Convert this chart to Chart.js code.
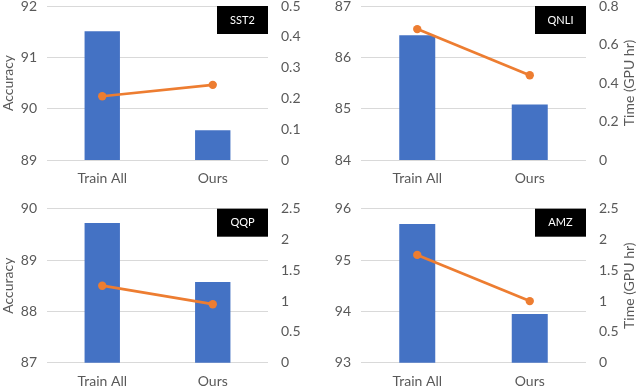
<!DOCTYPE html>
<html><head><meta charset="utf-8">
<script src="https://cdn.jsdelivr.net/npm/chart.js@4/dist/chart.umd.min.js"></script>
<style>
html,body{margin:0;padding:0;background:#fff;}
#wrap{position:relative;width:638px;height:386px;overflow:hidden;}
canvas{position:absolute;}
</style></head><body>
<div id="wrap">
<canvas id="c0" width="318" height="193" style="left:0;top:0"></canvas>
<canvas id="c1" width="320" height="193" style="left:318px;top:0"></canvas>
<canvas id="c2" width="318" height="193" style="left:0;top:193px"></canvas>
<canvas id="c3" width="320" height="193" style="left:318px;top:193px"></canvas>
</div>
<script>
const categories = ['Train All', 'Ours'];
const panelNames = ['SST2', 'QNLI', 'QQP', 'AMZ'];
const sst2Acc = [91.51, 89.58];
const sst2Time = [0.207, 0.244];
const qnliAcc = [86.43, 85.08];
const qnliTime = [0.68, 0.44];
const qqpAcc = [89.72, 88.57];
const qqpTime = [1.25, 0.95];
const amzAcc = [95.70, 93.95];
const amzTime = [1.75, 1.0];
const accMin = [89, 84, 87, 93];
const accMax = [92, 87, 90, 96];
const timeMax = [0.5, 0.8, 2.5, 2.5];
const timeStep = [0.1, 0.2, 0.5, 0.5];
const accTitle = 'Accuracy';
const timeTitle = 'Time (GPU hr)';

const accData = [sst2Acc, qnliAcc, qqpAcc, amzAcc];
const timeData = [sst2Time, qnliTime, qqpTime, amzTime];

const FONT = 'Lato';
const GREY = '#595959';

const boxPlugin = {
  id: 'boxLabel',
  afterDraw(chart) {
    const o = chart.options.plugins.boxLabel;
    const ctx = chart.ctx, a = chart.chartArea;
    ctx.save();
    ctx.fillStyle = '#000';
    const w = 51, h = 28;
    ctx.fillRect(a.right - w, a.top, w, h);
    ctx.fillStyle = '#fff';
    ctx.font = '11px ' + FONT;
    ctx.textAlign = 'center';
    ctx.textBaseline = 'middle';
    ctx.fillText(o.text, a.right - w / 2, a.top + h / 2);
    if (o.rightTitle) {
      ctx.fillStyle = GREY;
      ctx.font = '14px ' + FONT;
      ctx.translate(chart.width - 9, (a.top + a.bottom) / 2);
      ctx.rotate(-Math.PI / 2);
      ctx.fillText(o.rightTitle, 0, 0);
    }
    ctx.restore();
  }
};

function make(i) {
  const leftPanel = (i % 2 === 0);
  const topRow = i < 2;
  const leftW = leftPanel ? 47 : 43;
  const rightW = leftPanel ? 50 : 52;
  const topPad = topRow ? 6 : 15.7;
  const xH = topRow ? 33 : 23.3;
  new Chart(document.getElementById('c' + i), {
    data: {
      labels: categories,
      datasets: [
        { type: 'line', data: timeData[i], yAxisID: 'y1', order: 0,
          borderColor: '#ED7D31', backgroundColor: '#ED7D31', borderWidth: 2.75,
          pointRadius: 4.2, pointBorderWidth: 0, pointBackgroundColor: '#ED7D31' },
        { type: 'bar', data: accData[i], yAxisID: 'y', order: 1,
          backgroundColor: '#4472C4', barPercentage: 0.32, categoryPercentage: 1 }
      ]
    },
    options: {
      responsive: false, animation: false, devicePixelRatio: 1,
      layout: { padding: { top: topPad, left: 0, right: 0, bottom: 0 } },
      plugins: { legend: { display: false }, tooltip: { enabled: false },
        boxLabel: { text: panelNames[i], rightTitle: leftPanel ? null : timeTitle } },
      scales: {
        x: { grid: { display: false, drawTicks: false }, border: { display: false },
          ticks: { color: GREY, font: { family: FONT, size: 14 }, padding: 10 },
          afterFit(s) { s.height = xH; s.paddingLeft = 0; s.paddingRight = 0; } },
        y: { position: 'left', min: accMin[i], max: accMax[i],
          ticks: { stepSize: 1, color: GREY, font: { family: FONT, size: 14 }, padding: 10 },
          grid: { color: '#D9D9D9', drawTicks: false, lineWidth: 1 }, border: { display: false },
          title: { display: leftPanel, text: accTitle, color: GREY, font: { family: FONT, size: 14 }, padding: 0 },
          afterFit(s) { s.width = leftW; s.paddingTop = 0; s.paddingBottom = 0; } },
        y1: { position: 'right', min: 0, max: timeMax[i],
          ticks: { stepSize: timeStep[i], color: GREY, font: { family: FONT, size: 14 }, padding: 13,
            callback: v => String(Math.round(v * 100) / 100) },
          grid: { display: false, drawTicks: false }, border: { display: false },
          afterFit(s) { s.width = rightW; s.paddingTop = 0; s.paddingBottom = 0; } }
      }
    },
    plugins: [boxPlugin]
  });
}
for (let i = 0; i < 4; i++) make(i);
</script>
</body></html>
